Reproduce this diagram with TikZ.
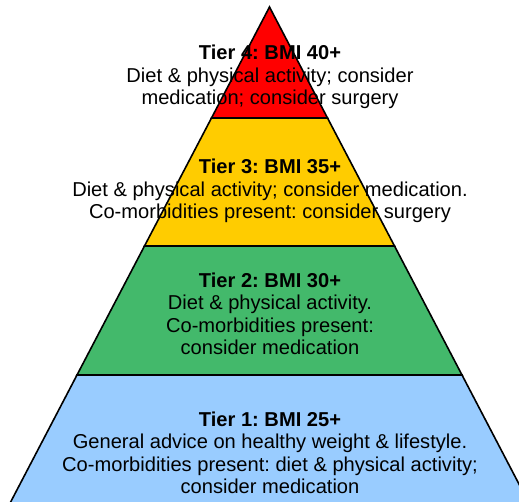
\documentclass[tikz,border=0pt]{standalone}
\usepackage{fontspec}
\setmainfont{Liberation Sans}
\frenchspacing
\definecolor{tierred}{RGB}{255,0,0}
\definecolor{tieryellow}{RGB}{255,204,0}
\definecolor{tiergreen}{RGB}{67,185,107}
\definecolor{tierblue}{RGB}{153,204,255}
\begin{document}
\begin{tikzpicture}[x=1pt,y=1pt,
  tier/.style={draw=black,line width=1.6pt,line join=miter},
  tiertext/.style={align=center,anchor=base,font=\fontsize{20.1}{22.5}\selectfont}]
  \useasboundingbox (0,0) rectangle (519,502);
  \clip (0,0) rectangle (519,502);
  % tiers, bottom to top
  \draw[tier,fill=tierblue] (9.6,-2) -- (529.4,-2) -- (462,127) -- (77,127) -- cycle;
  \draw[tier,fill=tiergreen] (77,127) -- (462,127) -- (394.5,256) -- (144.5,256) -- cycle;
  \draw[tier,fill=tieryellow] (144.5,256) -- (394.5,256) -- (327.5,384) -- (211.5,384) -- cycle;
  \draw[tier,fill=tierred] (211.5,384) -- (327.5,384) -- (269.5,495) -- cycle;
  % labels
  \node[tiertext] (t4) at (270,397) {\textbf{Tier 4: BMI 40+}\\Diet \& physical activity; consider\\medication; consider surgery};
  \node[tiertext] (t3) at (270,283) {\textbf{Tier 3: BMI 35+}\\Diet \& physical activity; consider medication.\\Co-morbidities present: consider surgery};
  \node[tiertext] (t2) at (270,147) {\textbf{Tier 2: BMI 30+}\\Diet \& physical activity.\\Co-morbidities present:\\consider medication};
  \node[tiertext] (t1) at (270,8) {\textbf{Tier 1: BMI 25+}\\General advice on healthy weight \& lifestyle.\\Co-morbidities present: diet \& physical activity;\\consider medication};
\end{tikzpicture}
\end{document}
